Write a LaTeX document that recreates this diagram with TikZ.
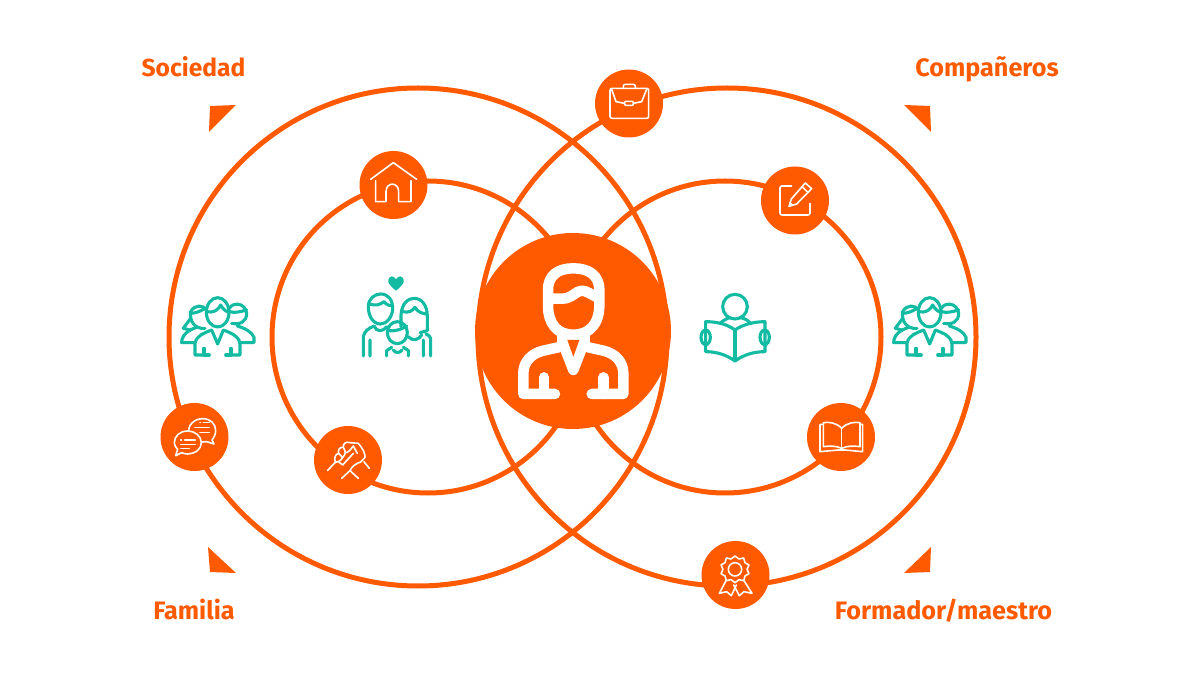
\documentclass[tikz,border=0pt]{standalone}
\usepackage{fontspec}
\setmainfont{Fira Sans}
\definecolor{org}{HTML}{FF5A00}
\definecolor{teal1}{HTML}{14BBA3}
\tikzset{
  ring/.style={draw=org,line width=5pt},
  badge/.style={circle,fill=org,draw=none,inner sep=0pt,minimum size=68pt},
  hub/.style={circle,fill=org,draw=none,inner sep=0pt,minimum size=196pt},
  lbl/.style={text=org,font=\fontsize{25.2}{30}\selectfont\bfseries,inner sep=0pt},
  cornermark/.style={fill=org,draw=none},
  wicon/.style={draw=white,line width=1.6pt,line cap=round,line join=round},
  ticon/.style={draw=teal1,line width=3.1pt,line cap=round,line join=round},
  person/.style={draw=white,line width=10.5pt,line cap=round,line join=round},
  zoomed/.style={x=0.33333pt,y=-0.33333pt},
  groupicon/.pic={
    \begin{scope}[shift={(150,280)},zoomed]
      \draw[ticon] (203,97) ellipse [x radius=34,y radius=44];
      \draw[ticon] (170,95) .. controls (190,100) and (205,90) .. (212,75) .. controls (220,90) and (230,95) .. (237,97);
      \draw[ticon] (170,90) .. controls (160,75) and (135,72) .. (122,95) .. controls (118,125) and (135,148) .. (165,145);
      \draw[ticon] (122,100) .. controls (135,100) and (150,95) .. (165,85);
      \draw[ticon] (122,115) -- (100,145) -- (120,150);
      \draw[ticon] (238,85) .. controls (250,65) and (285,68) .. (290,100) .. controls (290,125) and (270,135) .. (245,130);
      \draw[ticon] (240,95) .. controls (255,100) and (270,95) .. (290,90);
      \draw[ticon] (135,188) -- (95,188) .. controls (95,165) and (115,150) .. (140,142);
      \draw[ticon] (268,188) -- (312,188) -- (312,172) .. controls (305,155) and (285,145) .. (262,138);
      \draw[ticon] (162,225) -- (135,225) -- (135,190) .. controls (140,165) and (165,158) .. (185,150) -- (203,192) -- (220,150) .. controls (240,158) and (265,165) .. (270,190) -- (270,225) -- (243,225);
      \draw[ticon] (162,205) -- (162,225) -- (178,225);
      \draw[ticon] (243,205) -- (243,225) -- (227,225);
    \end{scope}
  }
}
\begin{document}
\begin{tikzpicture}[x=1pt,y=-1pt]
\useasboundingbox (0,0) rectangle (1200,700);
\fill[white] (0,0) rectangle (1200,700);

% rings
\draw[ring] (418,337) circle [radius=249];
\draw[ring] (727,337) circle [radius=249];
\draw[ring] (428,337) circle [radius=156];
\draw[ring] (725,337) circle [radius=156];

% corner marks
\fill[cornermark] (209,132) -- (236,105) -- (210,106) -- cycle;
\fill[cornermark] (208,547) -- (236,573) -- (210,572) -- cycle;
\fill[cornermark] (904,105) -- (930,106) -- (931,132) -- cycle;
\fill[cornermark] (931,547) -- (904,573) -- (930,572) -- cycle;

% labels
\node[lbl,font=\fontsize{24.6}{30}\selectfont\bfseries,anchor=base] (sociedad) at (193.5,76.5) {Sociedad};
\node[lbl,anchor=base] (companeros) at (987,76.5) {Compañeros};
\node[lbl,anchor=base] (familia) at (194,619) {Familia};
\node[lbl,anchor=base] (formador) at (943.5,619) {Formador/maestro};

% hub and badges
\node[hub] (centre) at (573,331) {};
\node[badge] (briefcase) at (629,103.5) {};
\node[badge] (house) at (393.5,185) {};
\node[badge] (pencil) at (795,200.5) {};
\node[badge] (chat) at (194.5,437) {};
\node[badge] (hands) at (348,460) {};
\node[badge] (book) at (841,437) {};
\node[badge] (award) at (735.5,575) {};

% central person
\begin{scope}[shift={(490,240)},zoomed]
  \draw[person] (174,150) .. controls (174,105) and (205,85) .. (250,85) .. controls (295,85) and (328,105) .. (328,150) -- (328,195) .. controls (328,250) and (300,284) .. (250,284) .. controls (200,284) and (174,250) .. (174,195) -- cycle;
  \draw[person] (178,176) -- (218,176) .. controls (245,176) and (258,152) .. (276,152) .. controls (290,152) and (305,165) .. (322,172);
  \fill[white] (200,272) -- (300,272) -- (300,315) -- (200,315) -- cycle;
  \draw[person] (217,305) -- (250,390) -- (283,305);
  \fill[org] (232,300) -- (268,300) -- (250,350) -- cycle;
  \draw[person] (205,322) -- (160,332) .. controls (125,340) and (100,365) .. (100,400) -- (100,462) -- (195,462);
  \draw[person] (305,462) -- (400,462) -- (400,400) .. controls (400,365) and (375,340) .. (340,332) -- (295,322);
  \draw[person] (162,412) -- (162,462);
  \draw[person] (340,412) -- (340,462);
\end{scope}

% house
\begin{scope}[shift={(340,140)},zoomed]
  \draw[wicon] (92,118) -- (160,68) -- (230,118);
  \draw[wicon] (107,122) -- (107,185) -- (138,185) -- (138,155) .. controls (138,125) and (176,125) .. (176,155) -- (176,185) -- (213,185) -- (213,122);
\end{scope}

% family
\begin{scope}[shift={(340,140)},zoomed]
  \fill[teal1] (168,452) .. controls (150,438) and (143,428) .. (145,420) .. controls (148,406) and (162,406) .. (168,418) .. controls (174,406) and (188,406) .. (191,420) .. controls (193,428) and (186,438) .. (168,452) -- cycle;
  \draw[ticon] (85,500) .. controls (85,475) and (105,462) .. (122,462) .. controls (145,462) and (158,480) .. (158,505) .. controls (158,530) and (140,552) .. (122,552) .. controls (100,552) and (85,530) .. (85,500) -- cycle;
  \draw[ticon] (88,492) .. controls (105,498) and (120,495) .. (132,485) .. controls (140,495) and (150,498) .. (158,498);
  \draw[ticon] (183,560) -- (183,525) .. controls (185,490) and (205,475) .. (222,475) .. controls (245,475) and (262,495) .. (262,530) -- (262,572) -- (240,578);
  \draw[ticon] (190,515) .. controls (205,520) and (218,512) .. (225,502) .. controls (232,515) and (245,520) .. (258,522);
  \draw[ticon] (172,578) ellipse [x radius=30,y radius=33];
  \draw[ticon] (143,572) .. controls (165,575) and (185,568) .. (200,558);
  \draw[ticon] (140,648) -- (140,632) -- (155,622) (205,648) -- (205,632) -- (190,622);
  \draw[ticon] (160,630) .. controls (165,640) and (180,640) .. (186,630);
  \draw[ticon] (70,648) -- (70,590) .. controls (72,575) and (85,565) .. (102,558) (90,600) -- (90,648);
  \draw[ticon] (102,558) .. controls (110,575) and (125,578) .. (140,560);
  \draw[ticon] (272,648) -- (272,595) .. controls (270,588) and (265,585) .. (258,582) (250,600) -- (250,648);
  \draw[ticon] (205,590) .. controls (220,605) and (235,600) .. (245,585);
\end{scope}

% groups
\pic at (0,0) {groupicon};
\pic at (712,0) {groupicon};

% chat
\begin{scope}[shift={(150,280)},zoomed]
  \draw[wicon] (158,416) .. controls (183,416) and (197,433) .. (197,452) .. controls (197,465) and (190,475) .. (186,480) -- (192,492) -- (170,485) .. controls (150,490) and (125,480) .. (118,460) .. controls (110,440) and (130,416) .. (158,416) -- cycle;
  \draw[wicon] (150,428) -- (152,428) (160,428) -- (178,428) (135,442) -- (178,442) (150,458) -- (178,458);
  \filldraw[wicon,fill=org] (113,453) .. controls (135,453) and (154,468) .. (154,488) .. controls (154,508) and (135,522) .. (113,522) .. controls (105,522) and (100,520) .. (95,518) -- (77,527) -- (83,508) .. controls (76,500) and (73,495) .. (73,488) .. controls (73,468) and (90,453) .. (113,453) -- cycle;
  \draw[wicon] (92,480) -- (94,480) (104,480) -- (136,480) (92,493) -- (136,493) (92,505) -- (118,505);
\end{scope}

% handshake
\begin{scope}[shift={(300,420)},zoomed]
  \draw[wicon] (82,152) -- (106,127);
  \draw[wicon] (106,127) .. controls (102,115) and (105,102) .. (116,100) .. controls (112,90) and (120,80) .. (130,82) .. controls (128,72) and (138,63) .. (150,68) -- (175,70) .. controls (188,85) and (196,100) .. (195,112) -- (182,126) .. controls (168,130) and (155,140) .. (150,152);
  \draw[wicon] (106,127) .. controls (115,128) and (122,122) .. (128,112) -- (116,100);
  \draw[wicon] (128,112) .. controls (135,105) and (140,98) .. (130,82);
  \draw[wicon] (140,98) .. controls (150,92) and (155,85) .. (160,78) -- (172,100);
  \draw[wicon] (115,125) -- (128,135) -- (160,100);
  \draw[wicon] (125,175) -- (150,152) -- (175,175);
  \draw[wicon] (192,125) -- (208,145);
\end{scope}

% briefcase
\begin{scope}[shift={(590,60)},zoomed]
  \draw[wicon,rounded corners=2pt] (60,85) rectangle (176,175);
  \draw[wicon,rounded corners=2pt] (100,85) -- (100,73) -- (136,73) -- (136,85);
  \draw[wicon] (65,88) -- (78,125) -- (103,130) (170,88) -- (155,125) -- (130,130);
  \draw[wicon,rounded corners=1pt] (104,124) rectangle (130,136);
\end{scope}

% pencil
\begin{scope}[shift={(590,60)},zoomed]
  \draw[wicon,rounded corners=2pt] (605,378) -- (570,378) -- (570,465) -- (660,465) -- (660,430);
  \draw[wicon] (646,369) -- (665,386) -- (620,432) -- (597,439) -- (604,417) -- cycle;
  \draw[wicon] (636,380) -- (654,397);
  \fill[white] (597,439) -- (601,426) -- (610,435) -- cycle;
\end{scope}

% reader and open book
\begin{scope}[shift={(690,280)},zoomed]
  \draw[ticon] (135,80) circle [radius=37];
  \draw[ticon] (92,128) .. controls (105,118) and (115,114) .. (120,112) (150,112) .. controls (160,114) and (170,118) .. (180,128);
  \draw[ticon] (47,125) .. controls (85,125) and (115,135) .. (135,150) .. controls (155,135) and (190,125) .. (225,125) -- (225,215) .. controls (190,215) and (160,225) .. (135,243) .. controls (110,225) and (80,215) .. (47,215) -- cycle;
  \draw[ticon] (135,150) -- (135,240);
  \draw[ticon] (47,172) ellipse [x radius=14,y radius=22];
  \draw[ticon] (224,172) ellipse [x radius=14,y radius=22];

  \draw[wicon] (455,445) .. controls (440,428) and (415,425) .. (400,428) -- (400,500) .. controls (420,497) and (440,498) .. (455,505);
  \draw[wicon] (455,445) .. controls (470,428) and (495,425) .. (510,428) -- (510,500) .. controls (490,497) and (470,498) .. (455,505);
  \draw[wicon] (455,445) -- (455,505);
  \draw[wicon] (400,433) -- (390,433) -- (390,515) -- (445,510) (510,433) -- (518,433) -- (518,515) -- (465,510) (445,510) -- (465,510);
\end{scope}

% award
\begin{scope}[shift={(690,530)},zoomed]
  \draw[wicon] (135,118) circle [radius=20];
  \draw[wicon] (135,78) -- (147,87) -- (161,84) -- (165,98) -- (177,105) -- (171,118) -- (177,131) -- (165,138) -- (161,152) -- (147,149) -- (135,158) -- (123,149) -- (109,152) -- (105,138) -- (93,131) -- (99,118) -- (93,105) -- (105,98) -- (109,84) -- (123,87) -- cycle;
  \draw[wicon] (108,152) -- (88,190) -- (110,185) -- (124,197) -- (139,165);
  \draw[wicon] (162,152) -- (186,190) -- (162,185) -- (148,197) -- (131,165);
\end{scope}
\end{tikzpicture}
\end{document}
